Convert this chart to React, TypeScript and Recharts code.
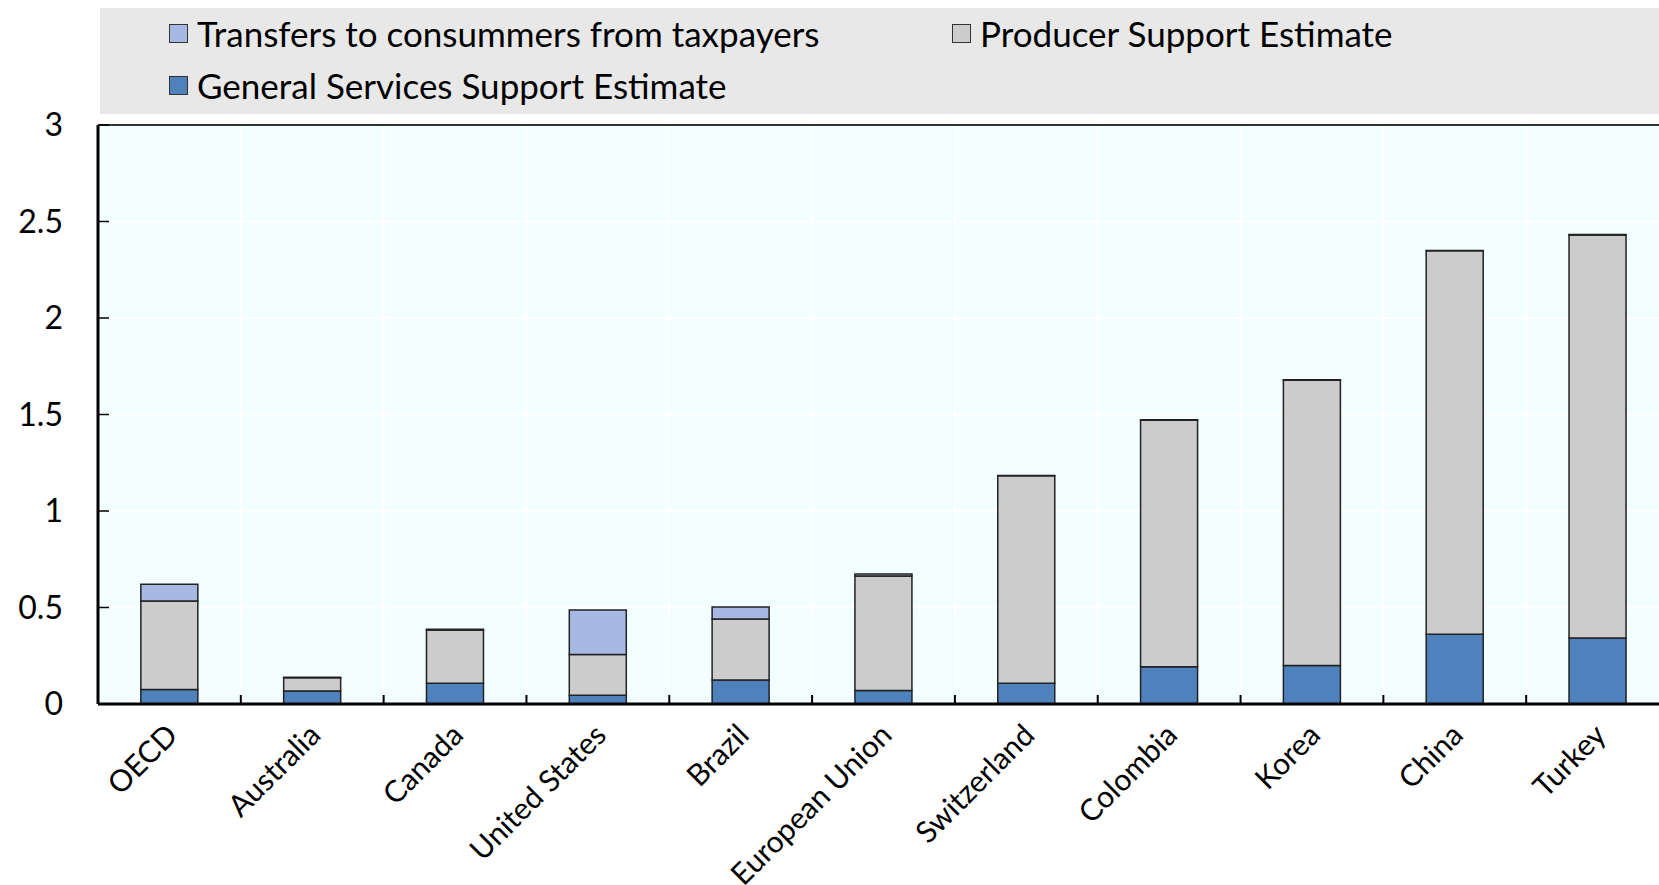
import React from 'react';
import {
  BarChart, Bar, XAxis, YAxis, CartesianGrid, ReferenceLine,
} from 'recharts';

// ─── Data ────────────────────────────────────────────────────────────────────

const countries = [
  'OECD', 'Australia', 'Canada', 'United States', 'Brazil', 'European Union',
  'Switzerland', 'Colombia', 'Korea', 'China', 'Turkey',
];

// General Services Support Estimate (bottom)
const gsse = [0.075, 0.067, 0.107, 0.045, 0.124, 0.07, 0.107, 0.193, 0.2, 0.362, 0.342];
// Producer Support Estimate (middle)
const pse = [0.459, 0.069, 0.276, 0.212, 0.316, 0.593, 1.075, 1.277, 1.478, 1.986, 2.088];
// Transfers to consumers from taxpayers (top)
const tct = [0.086, 0.002, 0.004, 0.23, 0.062, 0.01, 0.002, 0.003, 0.002, 0.002, 0.002];

const yTicks = [0, 0.5, 1, 1.5, 2, 2.5, 3];

const data = countries.map((c, i) => ({ country: c, gsse: gsse[i], pse: pse[i], tct: tct[i] }));

// ─── Layout ──────────────────────────────────────────────────────────────────

const FONT = 'Lato, "Open Sans", sans-serif';
const CHART_W = 1700;
const CHART_H = 885;
const LEFT = 98;
const RIGHT = 31;
const STEP = (CHART_W - LEFT - RIGHT) / countries.length;

const COLORS = { gsse: '#4F81BD', pse: '#CCCCCC', tct: '#A7B9E3' };

const legendItems = [
  { label: 'Transfers to consummers from taxpayers', color: COLORS.tct, x: 169, y: 22 },
  { label: 'Producer Support Estimate', color: COLORS.pse, x: 952, y: 22 },
  { label: 'General Services Support Estimate', color: COLORS.gsse, x: 169, y: 74 },
];

function XTick(props: any) {
  const { x, y, payload } = props;
  const axisY = y;
  return (
    <g>
      <line x1={x + STEP / 2} x2={x + STEP / 2} y1={axisY} y2={axisY - 9} stroke="#000" strokeWidth={2} />
      <text
        x={x + 10}
        y={axisY + 33}
        textAnchor="end"
        transform={`rotate(-45, ${x + 10}, ${axisY + 33})`}
        fontSize={30}
        fontFamily={FONT}
        fill="#000"
      >
        {payload.value}
      </text>
    </g>
  );
}

function YTick(props: any) {
  const { x, y, payload } = props;
  return (
    <g>
      <line x1={LEFT} x2={LEFT + 11} y1={y} y2={y} stroke="#000" strokeWidth={1.5} />
      <text x={x} y={y} dy={11} textAnchor="end" fontSize={32} fontFamily={FONT} fill="#000">
        {payload.value}
      </text>
    </g>
  );
}

export default function App() {
  return (
    <div style={{ position: 'fixed', left: 0, top: 0, width: 1659, height: 885, overflow: 'hidden', background: '#fff', fontFamily: FONT }}>
      {/* legend band */}
      <div style={{ position: 'absolute', left: 100, top: 8, width: 1600, height: 106, background: '#E8E8E8' }} />
      {legendItems.map((it) => (
        <div key={it.label} style={{ position: 'absolute', left: it.x, top: it.y - 3, display: 'flex', alignItems: 'center', height: 28 }}>
          <span style={{ width: 17, height: 17, background: it.color, border: '1.5px solid #333', display: 'inline-block' }} />
          <span style={{ marginLeft: 9, fontSize: 35, color: '#000', lineHeight: '28px', whiteSpace: 'nowrap' }}>{it.label}</span>
        </div>
      ))}
      <div style={{ position: 'absolute', left: 0, top: 0 }}>
        <BarChart
          width={CHART_W}
          height={CHART_H}
          data={data}
          margin={{ top: 125, right: RIGHT, left: 0, bottom: 0 }}
          barCategoryGap="30%"
        >
          <CartesianGrid
            fill="#F2FEFF"
            stroke="#FFFFFF"
            strokeWidth={2}
            verticalCoordinatesGenerator={({ offset }: any) =>
              countries.map((_, i) => offset.left + i * (offset.width / countries.length))
            }
          />
          <XAxis
            dataKey="country"
            height={181}
            interval={0}
            axisLine={{ stroke: '#000', strokeWidth: 3 }}
            tickLine={false}
            tickSize={0}
            tickMargin={0}
            tick={<XTick />}
          />
          <YAxis
            domain={[0, 3]}
            ticks={yTicks}
            width={LEFT}
            interval={0}
            axisLine={{ stroke: '#000', strokeWidth: 3 }}
            tickLine={false}
            tickSize={0}
            tickMargin={35}
            tick={<YTick />}
          />
          <ReferenceLine y={3} stroke="#333" strokeWidth={2} />
          <Bar dataKey="gsse" stackId="a" fill={COLORS.gsse} stroke="#222" strokeWidth={1.5} isAnimationActive={false} />
          <Bar dataKey="pse" stackId="a" fill={COLORS.pse} stroke="#222" strokeWidth={1.5} isAnimationActive={false} />
          <Bar dataKey="tct" stackId="a" fill={COLORS.tct} stroke="#222" strokeWidth={1.5} isAnimationActive={false} />
        </BarChart>
      </div>
    </div>
  );
}
